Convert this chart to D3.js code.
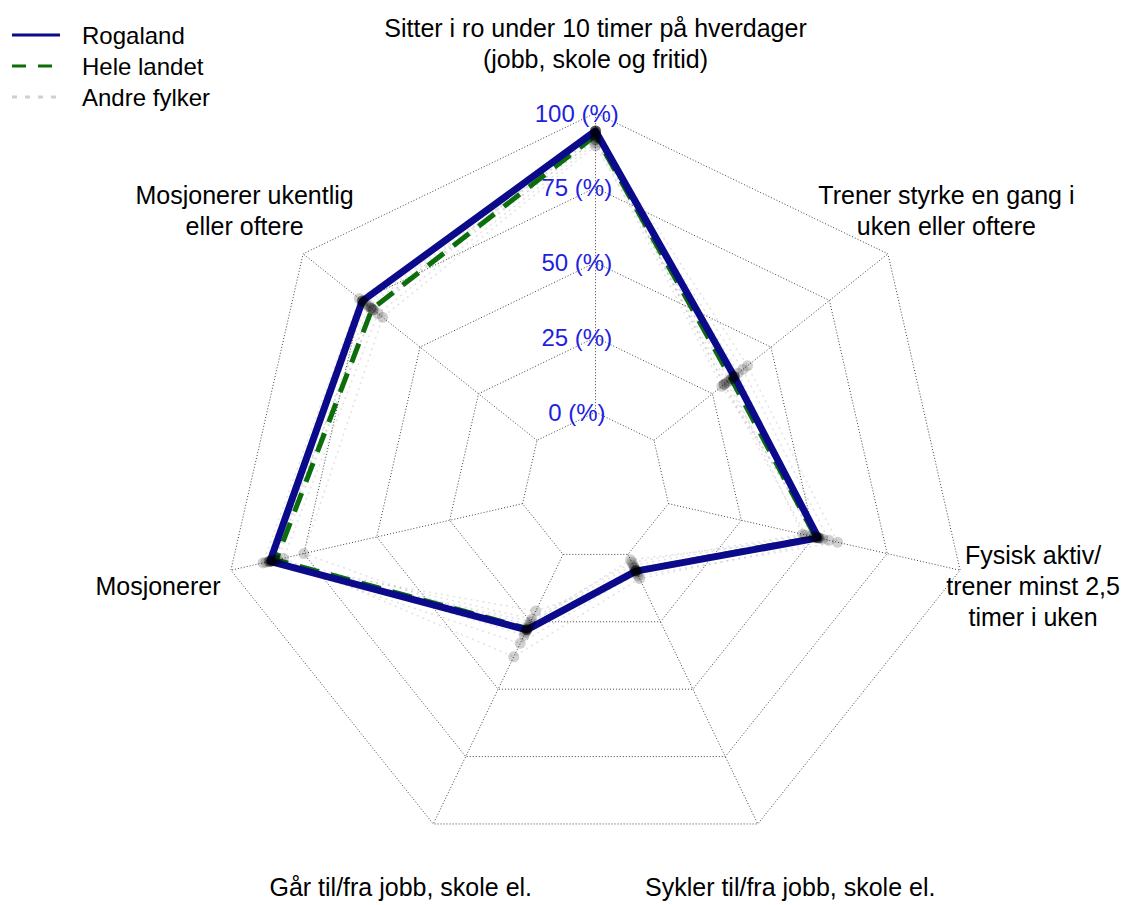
<!DOCTYPE html>
<html>
<head>
<meta charset="utf-8">
<script src="https://cdn.jsdelivr.net/npm/d3@7"></script>
<style>
  body { margin: 0; background: #fff; }
  text { font-family: "Liberation Sans", Arial, sans-serif; }
</style>
</head>
<body>
<svg id="chart" width="1123" height="905"></svg>
<script>
// axes in fmsb order: top first, then counter-clockwise
let categories = [
  ["Sitter i ro under 10 timer på hverdager", "(jobb, skole og fritid)"],
  ["Mosjonerer ukentlig", "eller oftere"],
  ["Mosjonerer"],
  ["Går til/fra jobb, skole el."],
  ["Sykler til/fra jobb, skole el."],
  ["Fysisk aktiv/", "trener minst 2,5", "timer i uken"],
  ["Trener styrke en gang i", "uken eller oftere"]
];

let rogaland   = [94, 74.7, 86.6, 28, 6.2, 51.4, 34.3];
let heleLandet = [92.5, 70.5, 84.5, 27.5, 6, 50.5, 33];

// other counties (one row each)
let andreFylker = [
  [93, 74, 88, 25, 4, 47, 30],
  [92, 72, 85, 28, 5, 50, 31],
  [91, 71, 86, 33, 7, 53, 29],
  [94, 70, 84, 24, 3, 46, 32],
  [90, 68, 82, 38, 9, 55, 38],
  [93, 76, 89, 21, 8, 58, 40],
  [89, 66, 75, 29, 6, 52, 33],
  [92, 73, 87, 27, 5, 50, 36],
  [94, 71, 86, 26, 2, 51, 30],
  [91, 70, 85, 30, 6, 49, 34]
];

let tickValues = [0, 25, 50, 75, 100];
let tickLabels = ["0 (%)", "25 (%)", "50 (%)", "75 (%)", "100 (%)"];

let legendItems = [
  {label: "Rogaland", key: "rog"},
  {label: "Hele landet", key: "hele"},
  {label: "Andre fylker", key: "andre"}
];

let cx = 595.5, cy = 487, R = 374;
let n = categories.length;

let svg = d3.select("#chart");

// radius scale, zero sits on the inner ring (fmsb centerzero = FALSE)
let r = d3.scaleLinear().domain([0, 100]).range([R / 5, R]);
let angle = d3.scaleLinear().domain([0, n]).range([Math.PI / 2, Math.PI / 2 + 2 * Math.PI]);

function pt(i, rad) {
  let a = angle(i);
  return [cx + rad * Math.cos(a), cy - rad * Math.sin(a)];
}

let line = d3.line().curve(d3.curveLinearClosed);

// grid rings
tickValues.forEach(function(v) {
  let ring = d3.range(n).map(i => pt(i, r(v)));
  svg.append("path")
    .attr("d", line(ring))
    .attr("fill", "none")
    .attr("stroke", "#444")
    .attr("stroke-width", 1)
    .attr("stroke-dasharray", "1,2");
});

// radial axes
d3.range(n).forEach(function(i) {
  let a = pt(i, r(0)), b = pt(i, r(100));
  svg.append("line")
    .attr("x1", a[0]).attr("y1", a[1])
    .attr("x2", b[0]).attr("y2", b[1])
    .attr("stroke", "#444")
    .attr("stroke-width", 1)
    .attr("stroke-dasharray", "1,2");
});

// axis tick labels
tickValues.forEach(function(v, k) {
  svg.append("text")
    .attr("x", cx - 0.05 * R)
    .attr("y", cy - r(v))
    .attr("text-anchor", "middle")
    .attr("dominant-baseline", "central")
    .attr("font-size", 24)
    .attr("fill", "#1f1fe0")
    .text(tickLabels[k]);
});

// category labels at 1.2 * R
categories.forEach(function(lines, i) {
  let a = angle(i);
  let px = cx + 1.2 * R * Math.cos(a);
  let py = cy - 1.2 * R * 0.988 * Math.sin(a);
  let t = svg.append("text")
    .attr("text-anchor", "middle")
    .attr("dominant-baseline", "central")
    .attr("font-size", 25)
    .attr("fill", "#000");
  let lh = 31;
  lines.forEach(function(s, j) {
    t.append("tspan")
      .attr("x", px)
      .attr("y", py + (j - (lines.length - 1) / 2) * lh)
      .text(s);
  });
});

function pts(vals) { return vals.map((v, i) => pt(i, r(v))); }

// other counties
andreFylker.forEach(function(vals) {
  svg.append("path")
    .attr("d", line(pts(vals)))
    .attr("fill", "none")
    .attr("stroke", "rgba(160,160,160,0.3)")
    .attr("stroke-width", 1.5)
    .attr("stroke-dasharray", "2,4");
});

svg.append("path")
  .attr("d", line(pts(heleLandet)))
  .attr("fill", "none")
  .attr("stroke", "#0b6e0b")
  .attr("stroke-width", 5)
  .attr("stroke-dasharray", "20,12");

svg.append("path")
  .attr("d", line(pts(rogaland)))
  .attr("fill", "none")
  .attr("stroke", "#0a0a8a")
  .attr("stroke-width", 7)
  .attr("stroke-linejoin", "round");

// points
andreFylker.concat([heleLandet]).forEach(function(vals) {
  svg.selectAll(null).data(pts(vals)).enter().append("circle")
    .attr("cx", d => d[0]).attr("cy", d => d[1])
    .attr("r", 5.5)
    .attr("fill", "rgba(0,0,0,0.18)");
});
svg.selectAll(null).data(pts(rogaland)).enter().append("circle")
  .attr("cx", d => d[0]).attr("cy", d => d[1])
  .attr("r", 5.5)
  .attr("fill", "rgba(0,0,0,0.5)");

// legend
let lg = svg.append("g");
legendItems.forEach(function(d, i) {
  let y = 35 + i * 31;
  let l = lg.append("line")
    .attr("x1", 12).attr("x2", 60)
    .attr("y1", y).attr("y2", y);
  if (d.key == "rog") {
    l.attr("stroke", "#0a0a8a").attr("stroke-width", 3);
  } else if (d.key == "hele") {
    l.attr("stroke", "#0b6e0b").attr("stroke-width", 3).attr("stroke-dasharray", "14,12");
  } else {
    l.attr("stroke", "#d0d0d0").attr("stroke-width", 3).attr("stroke-dasharray", "5,8");
  }
  lg.append("text")
    .attr("x", 82).attr("y", y)
    .attr("dominant-baseline", "central")
    .attr("font-size", 24)
    .text(d.label);
});
</script>
</body>
</html>
